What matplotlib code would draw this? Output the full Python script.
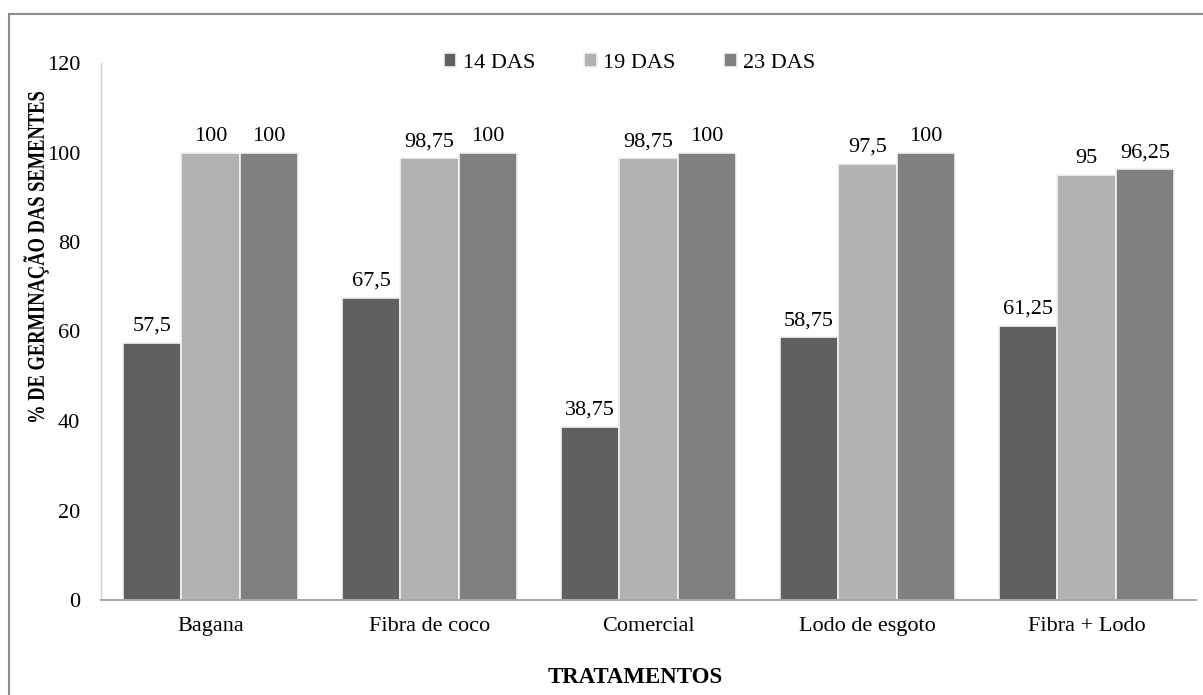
import matplotlib
matplotlib.use("Agg")
import matplotlib.pyplot as plt
import numpy as np
from matplotlib.patches import Rectangle, PathPatch
from matplotlib.textpath import TextPath
from matplotlib.font_manager import FontProperties
from matplotlib.transforms import Affine2D

plt.rcParams["font.family"] = ["Liberation Serif", "DejaVu Serif"]

categories = ["Bagana", "Fibra de coco", "Comercial", "Lodo de esgoto", "Fibra + Lodo"]
series_names = ["14 DAS", "19 DAS", "23 DAS"]
das14 = [57.5, 67.5, 38.75, 58.75, 61.25]
das19 = [100, 98.75, 98.75, 97.5, 95]
das23 = [100, 100, 100, 100, 96.25]
colors = ["#606060", "#b2b2b2", "#808080"]
y_ticks = [0, 20, 40, 60, 80, 100, 120]
y_title = "% DE GERMINAÇÃO DAS SEMENTES"
x_title = "TRATAMENTOS"


def fmt(v):
    s = f"{v:.2f}".rstrip("0").rstrip(".")
    return s.replace(".", ",")


W, H = 1203, 695
fig = plt.figure(figsize=(W / 100, H / 100), dpi=100)
ax = fig.add_axes([101 / W, 95 / H, 1095 / W, 537 / H])

x = np.arange(len(categories))
width = 0.267
for i, (vals, name, col) in enumerate(zip([das14, das19, das23], series_names, colors)):
    pos = x + (i - 1) * width
    bars = ax.bar(pos, vals, width, color=col, edgecolor="#f2f2f2", linewidth=1.2, label=name)
    for b, v in zip(bars, vals):
        ax.annotate(fmt(v), (b.get_x() + b.get_width() / 2, v), xytext=(0, 5),
                    textcoords="offset points", ha="center", va="bottom", fontsize=16)

ax.set_xlim(-0.5, len(categories) - 0.5)
ax.set_ylim(0, 120)
ax.set_yticks(y_ticks)
ax.set_xticks(x)
ax.set_xticklabels(categories)
ax.tick_params(axis="both", length=0, labelsize=16)
ax.tick_params(axis="y", pad=15)
ax.tick_params(axis="x", pad=12)

for side in ["top", "right"]:
    ax.spines[side].set_visible(False)
ax.spines["left"].set_color("#d0d0d0")
ax.spines["left"].set_linewidth(1.0)
ax.spines["bottom"].set_color("#a6a6a6")
ax.spines["bottom"].set_linewidth(1.4)

ax.set_xlabel(x_title, fontsize=16.5, fontweight="bold")
ax.xaxis.set_label_coords(0.488, -67 / 537)

# vertical axis title: condensed bold lettering, drawn as a path in pixel space
tp = TextPath((0, 0), y_title, size=24,
              prop=FontProperties(family="Liberation Serif", weight="bold"))
ext = tp.get_extents()
squeeze = 330 / ext.width
title_tf = (Affine2D()
            .translate(-(ext.x0 + ext.width / 2), -(ext.y0 + ext.height / 2))
            .scale(squeeze, 1.0)
            .rotate_deg(90)
            .translate(36, H - 257))
fig.patches.append(PathPatch(tp, transform=title_tf, facecolor="black",
                             edgecolor="none", lw=0))

ax.legend(loc="center", bbox_to_anchor=(0.483, 1.0), ncol=3, frameon=False, fontsize=16,
          handlelength=0.55, handleheight=0.55, handletextpad=0.3, columnspacing=2.2)

# outer frame around the chart area
fig.patches.append(Rectangle((8.5 / W, -0.05), 1.2, (H - 13.5) / H + 0.05,
                             transform=fig.transFigure, fill=False,
                             edgecolor="#8c8c8c", linewidth=1.5))

fig.savefig("out.png", dpi=100, facecolor="white")
